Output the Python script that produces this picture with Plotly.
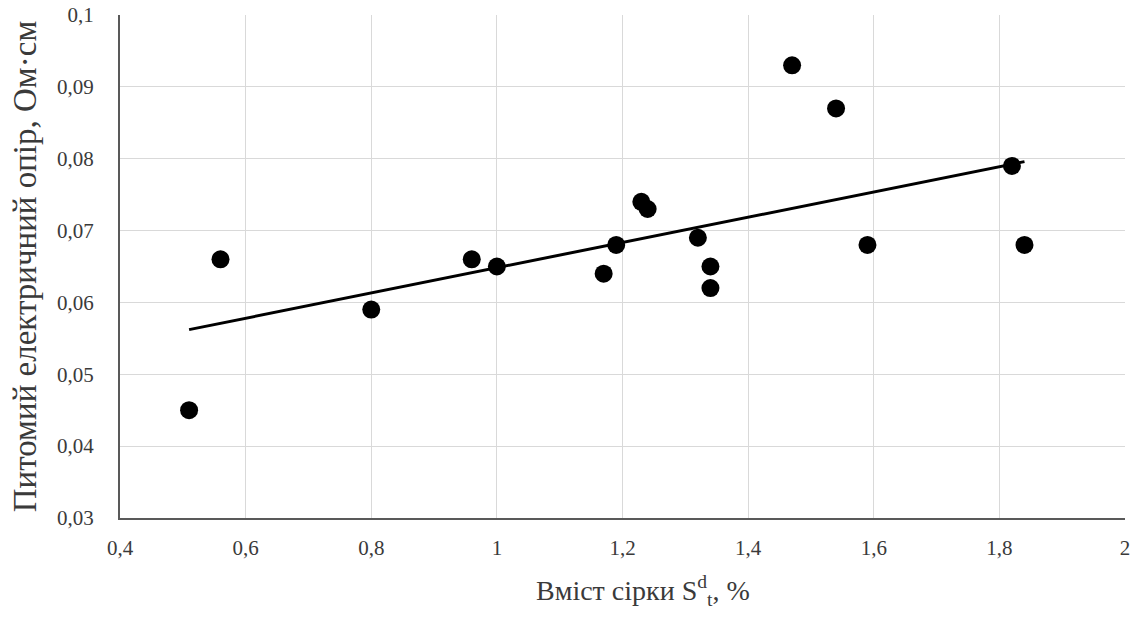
import numpy as np
import plotly.graph_objects as go

sulfur = [0.51, 0.56, 0.80, 0.96, 1.00, 1.17, 1.19, 1.23, 1.24, 1.32, 1.34, 1.34, 1.47, 1.54, 1.59, 1.82, 1.84]
resist = [0.045, 0.066, 0.059, 0.066, 0.065, 0.064, 0.068, 0.074, 0.073, 0.069, 0.065, 0.062, 0.093, 0.087, 0.068, 0.079, 0.068]

x_ticks = [0.4, 0.6, 0.8, 1.0, 1.2, 1.4, 1.6, 1.8, 2.0]
y_ticks = [0.03, 0.04, 0.05, 0.06, 0.07, 0.08, 0.09, 0.1]

slope, intercept = np.polyfit(sulfur, resist, 1)
tx = [min(sulfur), max(sulfur)]
ty = [slope * v + intercept for v in tx]

font = "Liberation Serif"
txt = "#3a3a3a"

fig = go.Figure()
fig.add_trace(go.Scatter(x=tx, y=ty, mode="lines", line=dict(color="black", width=3),
                         hoverinfo="skip", showlegend=False))
fig.add_trace(go.Scatter(x=sulfur, y=resist, mode="markers",
                         marker=dict(color="black", size=18), showlegend=False))

fig.update_layout(
    width=1140, height=619,
    margin=dict(l=120, r=15, t=15, b=101),
    paper_bgcolor="white", plot_bgcolor="white",
    separators=", ",
    font=dict(family=font, color=txt, size=21),
    xaxis=dict(range=[0.4, 2.0], tickvals=x_ticks, showgrid=True, gridcolor="#d9d9d9", gridwidth=1,
               showline=True, linecolor="#595959", linewidth=2, zeroline=False, ticks="",
               automargin=False, ticklabelstandoff=10,
               tickfont=dict(size=21, family=font, color=txt)),
    yaxis=dict(range=[0.03, 0.1], tickvals=y_ticks, showgrid=True, gridcolor="#d9d9d9", gridwidth=1,
               showline=True, linecolor="#595959", linewidth=2, zeroline=False, ticks="",
               automargin=False, ticklabelstandoff=20,
               tickfont=dict(size=21, family=font, color=txt),
               title=dict(text="Питомий електричний опір, Ом·см", standoff=10,
                          font=dict(size=33, family=font, color=txt))),
    annotations=[dict(text="Вміст сірки S<sup>d</sup><sub>t</sub>, %", xref="paper", yref="paper",
                      x=0.52, y=-0.145, xanchor="center", yanchor="middle", showarrow=False,
                      font=dict(size=28, family=font, color=txt))],
)

fig.write_html("out.html")
